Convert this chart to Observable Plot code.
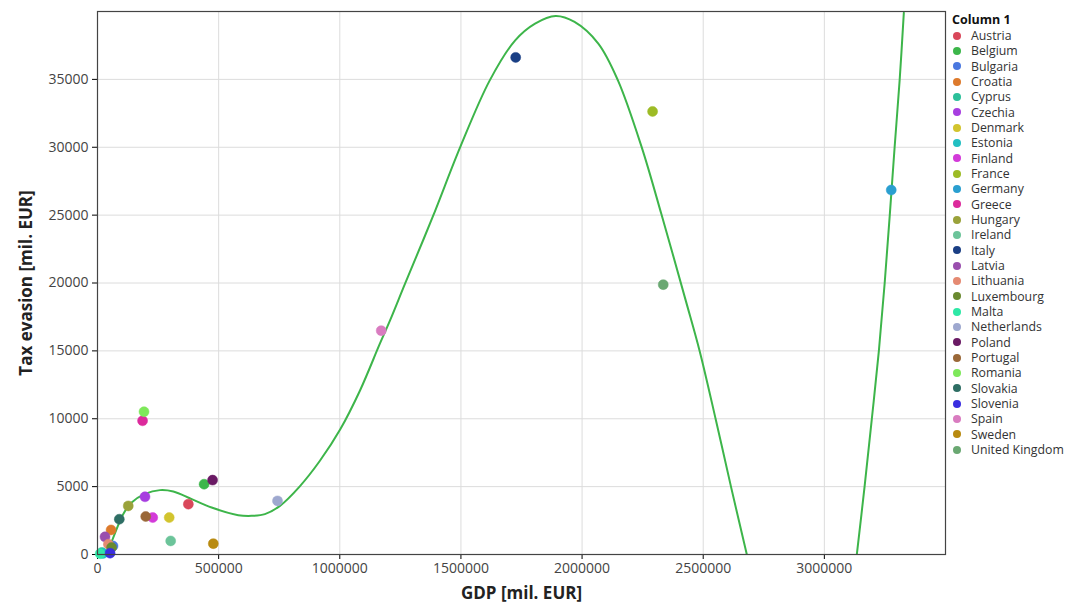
<!DOCTYPE html>
<html>
<head>
<meta charset="utf-8">
<script src="https://cdn.jsdelivr.net/npm/d3@7"></script>
<script src="https://cdn.jsdelivr.net/npm/@observablehq/plot@0.6"></script>
<style>
  html, body { margin: 0; padding: 0; background: #fff; }
  #wrap { position: relative; width: 1068px; height: 605px; overflow: hidden; font-family: "Open Sans", sans-serif; }
  #chart { position: absolute; left: 0; top: 0; }
  #legend { position: absolute; left: 952px; top: 12px; font-family: "Open Sans", sans-serif; color: #333; }
  #legend .title { font-weight: bold; font-size: 12.5px; color: #111; height: 16px; line-height: 16px; }
  #legend .item { height: 15.33px; line-height: 15.33px; font-size: 12.3px; white-space: nowrap; display: flex; align-items: center; }
  #legend .sw { width: 8px; height: 8px; border-radius: 50%; margin-left: 1px; margin-right: 10px; flex: none; }
  g[aria-label="x-axis label"] text, g[aria-label="y-axis label"] text { font-weight: bold; font-size: 17px; fill: #222; }
  g[aria-label="x-axis tick label"] text, g[aria-label="y-axis tick label"] text { fill: #444; }
</style>
</head>
<body>
<div id="wrap">
  <div id="chart"></div>
  <div id="legend"></div>
</div>
<script>
const countries = ["Austria","Belgium","Bulgaria","Croatia","Cyprus","Czechia","Denmark","Estonia","Finland","France","Germany","Greece","Hungary","Ireland","Italy","Latvia","Lithuania","Luxembourg","Malta","Netherlands","Poland","Portugal","Romania","Slovakia","Slovenia","Spain","Sweden","United Kingdom"];
const gdp = [375000,440000,64000,56000,18000,196000,296000,23000,228000,2291000,3276000,186000,127000,302000,1726000,31000,45000,58000,11000,743000,475000,199000,192000,90000,52000,1171000,478000,2335000];
const taxEvasion = [3710,5180,630,1810,150,4250,2720,80,2720,32640,26850,9850,3580,1000,36620,1300,760,510,60,3950,5480,2800,10520,2600,100,16490,800,19880];
const colors = ["#d9475a","#3cb64a","#4a78e0","#dd7a2c","#2cc09a","#a73ee0","#d2c42e","#22bfc2","#d33ad9","#9dbb25","#2a9fd0","#dc2a9c","#9aa23a","#6cc49a","#1a3f84","#9a4fae","#e58a72","#6a8a30","#2ee8a6","#9ea8cf","#6a1a64","#9a6838","#7ee85a","#2e6e64","#3a2ee0","#d97cc0","#b88a10","#6aa872"];

// trend line (two visible branches; gap where it falls below 0)
const curveGdp = [24000,37000,65000,106000,141000,196000,258000,313000,389000,471000,581000,636000,691000,753000,835000,918000,1002000,1083000,1165000,1207000,1269000,1383000,1497000,1619000,1724000,1806000,1891000,1969000,2067000,2148000,2246000,2327000,2428000,2486000,2552000,2616000,2680000, 2900000, 3134000,3166000,3196000,3225000,3249000,3270000,3290000,3311000,3328000];
const curveTax = [-300,0,1246,2972,3828,4469,4742,4639,4078,3459,2898,2847,2972,3584,5022,6903,9226,12066,15510,17228,19935,24847,30009,34928,37878,39110,39671,39228,37635,34928,30009,25097,18703,14942,9927,4890,0, null, 0,5000,10000,15000,20000,25000,30000,35000,39900];

const xTicks = [0,500000,1000000,1500000,2000000,2500000,3000000];
const yTicks = [0,5000,10000,15000,20000,25000,30000,35000];

const points = countries.map((c, i) => ({country: c, gdp: gdp[i], tax: taxEvasion[i], color: colors[i]}));
const curve = curveGdp.map((g, i) => ({gdp: g, tax: curveTax[i] == null ? NaN : curveTax[i]}));

const chart = Plot.plot({
  width: 948,
  height: 605,
  marginLeft: 97,
  marginRight: 3,
  marginTop: 11,
  marginBottom: 51,
  style: {fontFamily: "Open Sans, sans-serif", fontSize: "14px", background: "#fff"},
  x: {domain: [0, 3500000], ticks: xTicks, tickFormat: d => String(d), tickSize: 5, label: "GDP [mil. EUR]", labelArrow: false, labelAnchor: "center", labelOffset: 44},
  y: {domain: [0, 40000], ticks: yTicks, tickFormat: d => String(d), tickSize: 5, label: "Tax evasion [mil. EUR]", labelArrow: false, labelAnchor: "center", labelOffset: 78},
  marks: [
    Plot.gridX(xTicks, {stroke: "#dcdcdc", strokeOpacity: 1}),
    Plot.gridY(yTicks, {stroke: "#dcdcdc", strokeOpacity: 1}),
    Plot.line(curve, {x: "gdp", y: "tax", stroke: "#3db54a", strokeWidth: 2, curve: "catmull-rom", clip: true}),
    Plot.dot(points, {x: "gdp", y: "tax", fill: "color", r: 5, stroke: "color", strokeWidth: 0.5}),
    Plot.frame({stroke: "#444", strokeWidth: 1.2})
  ]
});
document.getElementById("chart").appendChild(chart);

const legend = document.getElementById("legend");
const t = document.createElement("div");
t.className = "title"; t.textContent = "Column 1";
legend.appendChild(t);
countries.forEach((c, i) => {
  const it = document.createElement("div");
  it.className = "item";
  const sw = document.createElement("span");
  sw.className = "sw"; sw.style.background = colors[i];
  const tx = document.createElement("span");
  tx.textContent = c;
  it.appendChild(sw); it.appendChild(tx);
  legend.appendChild(it);
});
</script>
</body>
</html>
